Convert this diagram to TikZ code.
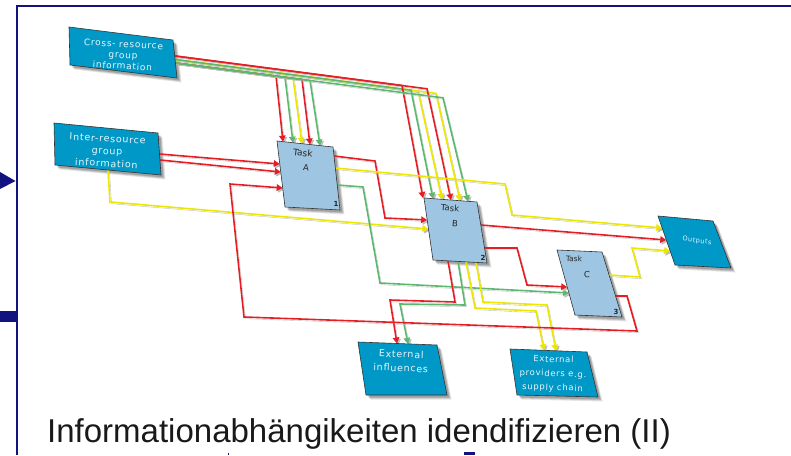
\documentclass[tikz,border=0pt]{standalone}
\usepackage{fontspec}
\setmainfont{Liberation Sans}
\newfontfamily\boxfont[LetterSpace=8]{DejaVu Sans}
\newfontfamily\taskfont{DejaVu Sans}
\usetikzlibrary{arrows.meta}
\definecolor{navy}{RGB}{18,18,128}
\definecolor{boxteal}{RGB}{0,152,198}
\definecolor{taskblue}{RGB}{158,198,226}
\definecolor{lred}{RGB}{228,30,36}
\definecolor{lgreen}{RGB}{92,184,110}
\definecolor{lyellow}{RGB}{236,230,0}
\definecolor{labelc}{RGB}{232,246,252}
\tikzset{
  conn/.style={line width=1.6pt, line join=miter, -{Triangle[length=6pt,width=6.5pt]},
    preaction={draw=black!25, transform canvas={shift={(1.5pt,-1.7pt)}}}},
  tbox/.style={fill=boxteal, draw=black!80, line width=0.6pt},
  taskbox/.style={fill=taskblue, draw=black!80, line width=0.6pt},
  lbl/.style={font=\boxfont\fontsize{9}{11}\selectfont, text=labelc, align=center, inner sep=0},
  tlbl/.style={font=\taskfont\fontsize{8.5}{9}\selectfont, text=black!85, inner sep=0},
  nlbl/.style={font=\taskfont\bfseries\fontsize{7}{8}\selectfont, text=black!85, inner sep=0}
}
\newcommand\myshadow[1]{%
  \foreach \o/\op in {4.5/0.10,3.5/0.14,2.5/0.18}{%
    \fill[black,opacity=\op,transform canvas={shift={(\o pt,-\o pt)}}] (#11)--(#12)--(#13)--(#14)--cycle;}}
\newcommand\myfill[2]{\filldraw[#2] (#11)--(#12)--(#13)--(#14)--cycle;}
\begin{document}
\begin{tikzpicture}[x=1pt,y=-1pt]
\useasboundingbox (0,0) rectangle (791,455);
% frame and slide marks
\draw[navy, line width=2.2pt] (791,6) -- (17,6) -- (17,455);
\fill[navy] (0,172) -- (15.5,181) -- (0,189) -- cycle;
\fill[navy] (0,311) rectangle (17,322);
\fill[navy] (227.5,452.5) rectangle (229,455);
\fill[navy] (464,452) rectangle (475,455);
% box corners
\coordinate (X1) at (69,27);   \coordinate (X2) at (173,40);  \coordinate (X3) at (177,78);  \coordinate (X4) at (70,65);
\coordinate (I1) at (54,123);  \coordinate (I2) at (158,133); \coordinate (I3) at (161,175); \coordinate (I4) at (55,165);
\coordinate (A1) at (277,141); \coordinate (A2) at (333,147); \coordinate (A3) at (340,210); \coordinate (A4) at (285,207);
\coordinate (B1) at (424,198); \coordinate (B2) at (477,202); \coordinate (B3) at (487,263); \coordinate (B4) at (433,260);
\coordinate (C1) at (557,250); \coordinate (C2) at (602,252); \coordinate (C3) at (622,317); \coordinate (C4) at (575,315);
\coordinate (O1) at (658,216); \coordinate (O2) at (713,221); \coordinate (O3) at (731,268); \coordinate (O4) at (675,265);
\coordinate (E1) at (358,342); \coordinate (E2) at (437,345); \coordinate (E3) at (447,395); \coordinate (E4) at (366,395);
\coordinate (P1) at (510,349); \coordinate (P2) at (587,352); \coordinate (P3) at (598,397); \coordinate (P4) at (517,395);
% ports
\coordinate (xs1) at (175.1,56); \coordinate (xs2) at (175.2,59.5); \coordinate (xs3) at (175.4,63);
\coordinate (at1) at (283,141.6); \coordinate (at2) at (293,142.7); \coordinate (at3) at (302,143.7);
\coordinate (at4) at (310,144.5); \coordinate (at5) at (320,145.6);
\coordinate (bt1) at (423,198); \coordinate (bt2) at (433,198.7); \coordinate (bt3) at (442,199.4);
\coordinate (bt4) at (451,200); \coordinate (bt5) at (460,200.7); \coordinate (bt6) at (468,201.3);
\coordinate (is1) at (159.5,154); \coordinate (is2) at (160,160); \coordinate (is3) at (108,170);
\coordinate (al1) at (279.8,164); \coordinate (al2) at (280.8,172); \coordinate (al3) at (282.7,188);
\coordinate (bl1) at (427.2,220); \coordinate (bl2) at (428.5,229);
\coordinate (ar1) at (334,156); \coordinate (ar2) at (335.3,168); \coordinate (ar3) at (337.2,185);
\coordinate (ol1) at (662.2,228); \coordinate (ol2) at (666.3,240); \coordinate (ol3) at (670.1,251);
\coordinate (cl1) at (567.2,287); \coordinate (cl2) at (568.9,293);
\coordinate (br1) at (480.8,225); \coordinate (br2) at (484.5,248);
\coordinate (bb1) at (448,260.8); \coordinate (bb2) at (458,261.4); \coordinate (bb3) at (466,261.8); \coordinate (bb4) at (476,262.3);
\coordinate (et1) at (397,343.5); \coordinate (et2) at (408,343.9);
\coordinate (pt1) at (544,350.2); \coordinate (pt2) at (556,350.8);
\coordinate (cr1) at (609.1,275); \coordinate (cr2) at (615.5,296);
% shadows of boxes
\myshadow{X}\myshadow{I}\myshadow{A}\myshadow{B}\myshadow{C}\myshadow{O}\myshadow{E}\myshadow{P}
% Cross -> Task A
\draw[conn,lred]    (xs3) -- (276,76.1) -- (at1);
\draw[conn,lgreen]  (xs3) -- (285,77.3) -- (at2);
\draw[conn,lyellow] (xs3) -- (293,78.3) -- (at3);
\draw[conn,lred]    (xs3) -- (302,79.5) -- (at4);
\draw[conn,lgreen]  (xs3) -- (310,80.5) -- (at5);
% Cross -> Task B
\draw[conn,lyellow] (xs2) -- (418,91.1) -- (bt3);
\draw[conn,lyellow] (xs2) -- (436,93.4) -- (bt5);
\draw[conn,lgreen]  (xs2) -- (411,90.2) -- (bt2);
\draw[conn,lred]    (xs1) -- (427,88.8) -- (bt4);
\draw[conn,lred]    (xs1) -- (402,85.5) -- (bt1);
\draw[conn,lgreen]  (xs3) -- (443,97.8) -- (bt6);
% Inter -> A, B
\draw[conn,lred] (is1) -- (al1);
\draw[conn,lred] (is2) -- (al2);
\draw[conn,lyellow] (is3) -- (110,202) -- (bl2);
% Task A outputs
\draw[conn,lred] (ar1) -- (375,161) -- (385,218) -- (bl1);
\draw[conn,lyellow] (ar2) -- (505,184) -- (512,215) -- (ol1);
\draw[conn,lgreen] (ar3) -- (363,187) -- (380,283) -- (cl2);
% Task B outputs
\draw[conn,lred] (br1) -- (ol2);
\draw[conn,lred] (br2) -- (517,248) -- (527,285) -- (cl1);
\draw[conn,lred] (bb1) -- (455,302) -- (390,300) -- (et1);
\draw[conn,lgreen] (bb2) -- (465,305) -- (400,304) -- (et2);
\draw[conn,lyellow] (bb3) -- (475,308) -- (536,311) -- (pt1);
\draw[conn,lyellow] (bb4) -- (483,302) -- (547,305) -- (pt2);
% Task C outputs
\draw[conn,lyellow] (cr1) -- (640,277) -- (632,248) -- (ol3);
\draw[conn,lred] (cr2) -- (627,296) -- (637,331) -- (244,317) -- (230,184) -- (al3);
% boxes
\myfill{X}{tbox}\myfill{I}{tbox}\myfill{O}{tbox}\myfill{E}{tbox}\myfill{P}{tbox}
\myfill{A}{taskbox}\myfill{B}{taskbox}\myfill{C}{taskbox}
% labels
\node[lbl, rotate=-3] (crossT) at (123,55) {Cross- resource\\group\\information};
\node[lbl, rotate=-3, font=\boxfont\fontsize{9.5}{12.5}\selectfont] (interT) at (107,151) {Inter-resource\\group\\information};
\node[tlbl, rotate=-6, font=\taskfont\fontsize{9}{9}\selectfont] (taskAT) at (303,153) {Task};
\node[tlbl, rotate=-6] (taskAL) at (306,168) {A};
\node[nlbl] (taskAN) at (336,204) {1};
\node[tlbl, rotate=-4.5] (taskBT) at (450,208) {Task};
\node[tlbl, rotate=-4.5] (taskBL) at (455,224) {B};
\node[nlbl] (taskBN) at (483,258) {2};
\node[tlbl, rotate=-3, font=\taskfont\fontsize{7.5}{8}\selectfont] (taskCT) at (574,259) {Task};
\node[tlbl, rotate=-3] (taskCL) at (587,275) {C};
\node[nlbl] (taskCN) at (616,312) {3};
\node[lbl, rotate=-7, font=\boxfont\fontsize{6.5}{7}\selectfont] (outT) at (697,241) {Outputs};
\node[lbl, rotate=-2, font=\boxfont\fontsize{9.5}{14}\selectfont] (extIT) at (401,361) {External\\influences};
\node[lbl, rotate=-2, font=\boxfont\fontsize{8.5}{14}\selectfont] (extPT) at (553,374) {External\\providers e.g.\\supply chain};
% title
\node[anchor=base west, inner sep=0, font=\fontsize{33}{36}\selectfont, text=black!90] (title) at (47,442) {Informationabhängikeiten idendifizieren (II)};
\end{tikzpicture}
\end{document}
